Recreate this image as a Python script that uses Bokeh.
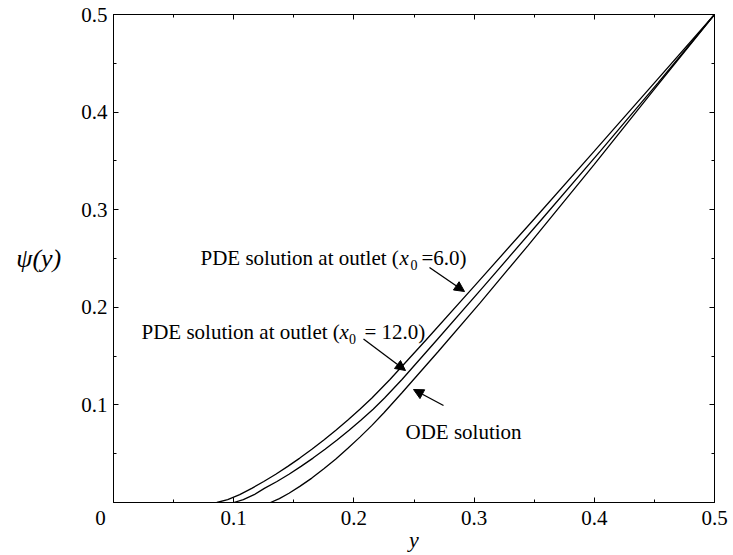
from bokeh.plotting import figure
from bokeh.models import (FixedTicker, LinearAxis, Label, Arrow, NormalHead,
                          CustomJSTickFormatter)
from bokeh.embed import file_html
from bokeh.resources import INLINE

# ---- data ----
y_pde6 = [0.086, 0.095, 0.105, 0.115, 0.125, 0.135, 0.145, 0.155, 0.165, 0.175, 0.185,
          0.195, 0.205, 0.215, 0.230, 0.260, 0.300, 0.350, 0.400, 0.450, 0.500]
psi_pde6 = [0.0, 0.003, 0.008, 0.0145, 0.0215, 0.029, 0.037, 0.0455, 0.0545, 0.064, 0.074,
            0.0845, 0.0955, 0.107, 0.126, 0.1665, 0.2215, 0.2905, 0.360, 0.430, 0.500]

y_pde12 = [0.100, 0.108, 0.117, 0.1255, 0.136, 0.146, 0.156, 0.166, 0.176, 0.186, 0.196,
           0.206, 0.216, 0.2255, 0.240, 0.269, 0.308, 0.3565, 0.405, 0.453, 0.500]
psi_pde12 = [0.0, 0.003, 0.008, 0.0145, 0.0215, 0.029, 0.037, 0.0455, 0.0545, 0.064, 0.074,
             0.0845, 0.0955, 0.107, 0.126, 0.1665, 0.2215, 0.2905, 0.360, 0.430, 0.500]

y_ode = [0.1306, 0.138, 0.146, 0.155, 0.165, 0.175, 0.185, 0.195, 0.205, 0.215, 0.225,
         0.240, 0.270, 0.305, 0.345, 0.400, 0.450, 0.500]
psi_ode = [0.0, 0.004, 0.0095, 0.0165, 0.025, 0.0345, 0.0445, 0.0555, 0.067, 0.079, 0.092,
           0.1125, 0.1545, 0.2045, 0.2635, 0.3465, 0.4235, 0.500]

x_ticks = [0.0, 0.1, 0.2, 0.3, 0.4, 0.5]
y_ticks = [0.1, 0.2, 0.3, 0.4, 0.5]
minor_ticks = [0.05, 0.15, 0.25, 0.35, 0.45]

FONT = "Liberation Serif"

W, H = 733, 555
L, R, T, B = 113, 714, 14, 502


def px2x(px):
    return (px - L) / (R - L) * 0.5


def px2y(py):
    return (B - py) / (B - T) * 0.5


p = figure(width=W, height=H, x_range=(0, 0.5), y_range=(0, 0.5),
           output_backend="svg", toolbar_location=None,
           min_border_left=L, min_border_right=W - R,
           min_border_top=T, min_border_bottom=H - B,
           x_axis_type=None, y_axis_type=None)
p.grid.visible = False
p.outline_line_color = "black"
p.outline_line_width = 1
p.background_fill_color = "white"
p.border_fill_color = "white"


def make_axis(ticks, labels=True):
    ax = LinearAxis(ticker=FixedTicker(ticks=ticks, minor_ticks=minor_ticks))
    ax.major_tick_in = 5
    ax.major_tick_out = 0
    ax.minor_tick_in = 3
    ax.minor_tick_out = 0
    ax.axis_line_color = "black"
    ax.major_tick_line_color = "black"
    ax.minor_tick_line_color = "black"
    ax.major_label_text_font = FONT
    ax.major_label_text_font_size = "21px"
    ax.major_label_text_color = "black"
    ax.major_label_standoff = 6
    ax.axis_label_text_font = FONT
    ax.axis_label_text_font_style = "italic"
    ax.axis_label_text_color = "black"
    if not labels:
        ax.formatter = CustomJSTickFormatter(code="return ''")
        ax.major_label_standoff = 0
    return ax


xb = make_axis(x_ticks)
xb.major_label_overrides = {0.0: "0\u00a0\u00a0\u00a0\u00a0\u00a0"}
xb.major_label_standoff = 3
xb.axis_label = "y"
xb.axis_label_text_font_size = "22px"
xb.axis_label_standoff = -6
p.add_layout(xb, "below")

yl = make_axis(y_ticks)
yl.axis_label = "\u03c8(y)"
yl.axis_label_orientation = "horizontal"
yl.axis_label_text_font_size = "26px"
yl.axis_label_standoff = 17
p.add_layout(yl, "left")

p.add_layout(make_axis(x_ticks, False), "above")
p.add_layout(make_axis(y_ticks, False), "right")

for xs, ys in [(y_pde6, psi_pde6), (y_pde12, psi_pde12), (y_ode, psi_ode)]:
    p.line(xs, ys, line_color="black", line_width=1.3)


def lab(px, py, text, size="21px", style="normal", align="left"):
    p.add_layout(Label(x=px2x(px), y=px2y(py), text=text, text_font=FONT,
                       text_font_size=size, text_font_style=style,
                       text_color="black", text_align=align,
                       text_baseline="alphabetic"))


# annotation 1
lab(200, 257.5, "PDE solution at outlet (")
lab(399, 257.5, "x", style="italic")
lab(410, 264, "0", size="14px")
lab(421, 257.5, "=6.0)")

# annotation 2
lab(141, 331.7, "PDE solution at outlet (")
lab(339, 331.7, "x", style="italic")
lab(348.5, 338, "0", size="14px")
lab(364, 331.7, "= 12.0)")

# annotation 3
lab(405, 431.7, "ODE solution")


def arrow(x0, y0, x1, y1):
    p.add_layout(Arrow(end=NormalHead(size=10, fill_color="black", line_color="black"),
                       x_start=px2x(x0), y_start=px2y(y0),
                       x_end=px2x(x1), y_end=px2y(y1),
                       line_color="black", line_width=1.3))


arrow(429, 267, 464, 291)
arrow(363, 338.5, 405, 370)
arrow(443, 405, 413, 389)

open("out.html", "w").write(file_html(p, INLINE))
